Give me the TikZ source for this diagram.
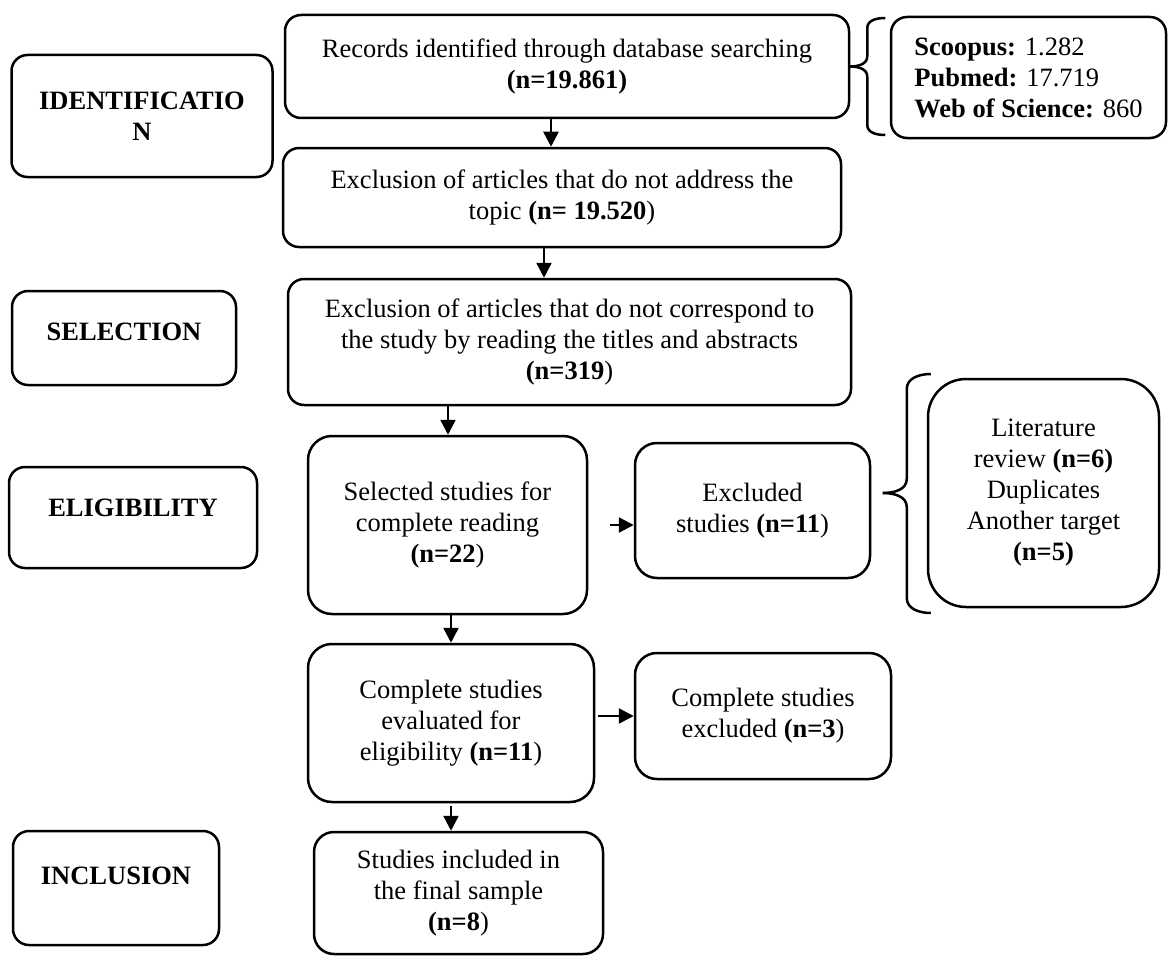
\documentclass[tikz,border=0pt]{standalone}
\usepackage{fontspec}
\setmainfont{Liberation Serif}
\usetikzlibrary{arrows.meta}

\begin{document}
\begin{tikzpicture}[x=1pt,y=-1pt,every node/.style={font=\fontsize{26.5}{31}\selectfont},box/.style={draw,line width=2.5pt,rounded corners=16pt,align=center,inner sep=2pt},stage/.style={box,font=\fontsize{26.5}{31}\selectfont\bfseries},arr/.style={-{Triangle[length=15pt,width=15pt]},line width=2.5pt},brace/.style={line width=2.5pt}]
\useasboundingbox (0,0) rectangle (1169,955);
% stages
\node[stage,minimum width=261pt,minimum height=122pt] (ident) at (142,116) {IDENTIFICATIO\\N};
\node[stage,minimum width=224pt,minimum height=94pt,text depth=12pt] (selc) at (124,338) {SELECTION};
\node[stage,minimum width=248pt,minimum height=101pt,text depth=19pt] (elig) at (133,517.5) {ELIGIBILITY};
\node[stage,minimum width=206pt,minimum height=114pt,text depth=24pt] (incl) at (116,888) {INCLUSION};
% flow
\node[box,minimum width=564pt,minimum height=103pt] (rec) at (567,66.5) {Records identified through database searching\\\textbf{(n=19.861)}};
\node[box,align=left,minimum width=275pt,minimum height=121pt] (db) at (1028.5,77.5) {\textbf{Scoopus:} 1.282\\\textbf{Pubmed:} 17.719\\\textbf{Web of Science:} 860};
\node[box,minimum width=558pt,minimum height=99pt] (topic) at (562,197.5) {Exclusion of articles that do not address the\\topic \textbf{(n= 19.520})};
\node[box,minimum width=563pt,minimum height=126pt] (sel) at (569.5,342) {Exclusion of articles that do not correspond to\\the study by reading the titles and abstracts\\\textbf{(n=319})};
\node[box,rounded corners=24pt,minimum width=279pt,minimum height=178pt] (read) at (447.5,525) {Selected studies for\\complete reading\\\textbf{(n=22})};
\node[box,rounded corners=22pt,minimum width=235pt,minimum height=135pt] (exc) at (752.5,510.5) {Excluded\\studies \textbf{(n=11})};
\node[box,rounded corners=38pt,minimum width=231pt,minimum height=228pt] (lit) at (1043.5,493) {Literature\\review \textbf{(n=6)}\\Duplicates\\Another target\\\textbf{(n=5)}};
\node[box,rounded corners=24pt,minimum width=286pt,minimum height=158pt] (eval) at (451,723) {Complete studies\\evaluated for\\eligibility \textbf{(n=11})};
\node[box,rounded corners=22pt,minimum width=256pt,minimum height=126pt] (exc3) at (763,716) {Complete studies\\excluded \textbf{(n=3})};
\node[box,rounded corners=20pt,minimum width=289pt,minimum height=122pt] (fin) at (458.5,893) {Studies included in\\the final sample\\\textbf{(n=8})};
% arrows
\draw[arr] (rec.south -| 551,0) -- (topic.north -| 551,0);\draw[arr] (topic.south -| 544,0) -- (sel.north -| 544,0);\draw[arr] (sel.south -| 448,0) -- (read.north -| 448,0);
\draw[arr] ([xshift=22pt]read.east) -- (exc.west |- read.east);\draw[arr] (read.south -| eval.north) -- (eval.north);
\draw[arr] (eval.east |- exc3.west) ++(3,0) -- (exc3.west);\draw[arr] ([yshift=-3pt]eval.south) -- (eval.south |- fin.north);
% braces
\draw[brace] (rec.east) to[out=0,in=-90] ++(17,-10) -- ++(0,-28.5) to[out=90,in=180] ++(18,-10);
\draw[brace] (rec.east) to[out=0,in=90] ++(17,10) -- ++(0,48.5) to[out=-90,in=180] ++(18,10);
\draw[brace] ([xshift=-44pt]lit.west) to[out=0,in=-90] ++(24,-14) -- ++(0,-90) to[out=90,in=180] ++(24,-15);
\draw[brace] ([xshift=-44pt]lit.west) to[out=0,in=90] ++(24,14) -- ++(0,91) to[out=-90,in=180] ++(24,15);
\end{tikzpicture}
\end{document}
